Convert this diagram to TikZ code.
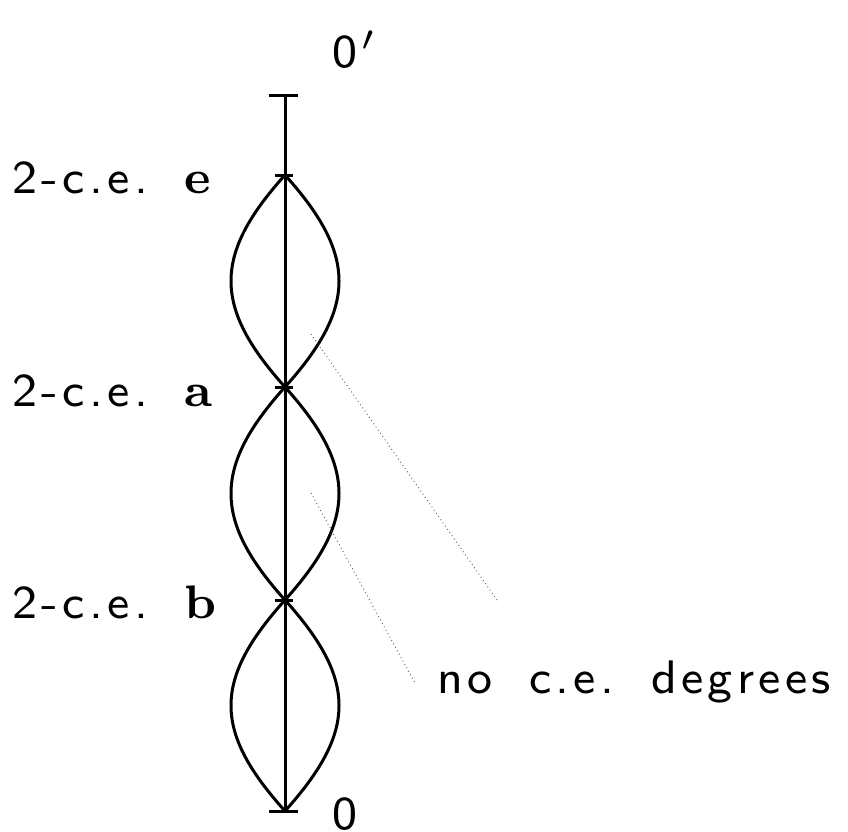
\documentclass[tikz,border=0pt]{standalone}
\renewcommand\familydefault{\sfdefault}
\newcommand\biglbl[1]{\scalebox{5.875}{\fontsize{8}{10}\selectfont #1}}
\newcommand\bfl[1]{{\rmfamily\bfseries #1}}
% letter-spaced text: \lssp marks a word space
\def\lsend{\lsend}
\def\lssp{\lssp}
\newcommand\lskern{0.75pt}
\def\ls#1{\lsA#1\lsend}
\def\lsA#1{\ifx#1\lsend\else\ifx#1\lssp\hspace{5.5pt}\else#1\kern\lskern\fi\expandafter\lsA\fi}
\begin{document}
\begin{tikzpicture}[x=1pt,y=-1pt,
  mainline/.style={line width=3pt},
  tickline/.style={line width=3pt},
  leader/.style={line width=0.9pt, gray!70!black, dash pattern=on 0.9pt off 3pt},
  lbl/.style={anchor=base west, inner sep=0pt}]
\useasboundingbox (0,0) rectangle (848,831);
\coordinate (top) at (285,95);
\coordinate (e) at (285,175);
\coordinate (a) at (285,387);
\coordinate (b) at (285,600);
\coordinate (z) at (285,811);
% spine
\draw[mainline] (top) -- (z);
% end ticks
\draw[tickline] ([xshift=-16pt]top) -- ([xshift=13pt]top);
\draw[tickline] ([xshift=-16pt]z) -- ([xshift=13pt]z);
% node ticks
\foreach \p in {e,a,b}{
  \draw[tickline] ([xshift=-10pt]\p) -- ([xshift=8pt]\p);
}
% lenses
\foreach \u/\v in {e/a,a/b,b/z}{
  \draw[mainline] (\u) .. controls ([shift={(-72,80)}]\u) and ([shift={(-72,-80)}]\v) .. (\v);
  \draw[mainline] (\u) .. controls ([shift={(72,80)}]\u) and ([shift={(72,-80)}]\v) .. (\v);
}
% labels
\node[lbl] (le) at (12,193) {\biglbl{\ls{2-c.e.\lssp}\bfl{e}}};
\node[lbl] (la) at (12,406) {\biglbl{\ls{2-c.e.\lssp}\bfl{a}}};
\node[lbl] (lb) at (12,618) {\biglbl{\ls{2-c.e.\lssp}\bfl{b}}};
\node[lbl] (ltop) at (332,67) {\biglbl{0\kern\lskern$'$}};
\node[lbl] (lz) at (332,829) {\biglbl{0}};
\node[lbl] (lno) at (437,693) {\biglbl{\ls{no\lssp c.e.\lssp degrees}}};
% leaders
\coordinate (d1s) at (311,334);
\coordinate (d1e) at (497,600);
\coordinate (d2s) at (311,493);
\coordinate (d2e) at (415,683);
\draw[leader] (d1s) -- (d1e);
\draw[leader] (d2s) -- (d2e);
\end{tikzpicture}
\end{document}
